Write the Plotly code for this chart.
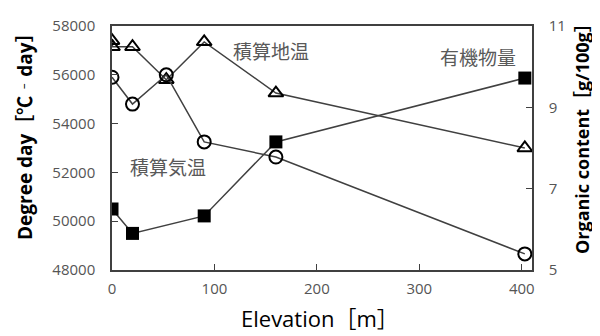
import plotly.graph_objects as go

# Data
tri_x = [0, 0.5, 20, 53, 90, 160, 403]
tri_y = [57400, 57150, 57150, 55800, 57350, 55250, 53000]
circ_x = [0, 20, 53, 90, 160, 403]
circ_y = [55900, 54800, 56000, 53250, 52630, 48660]
sq_x = [0, 20, 90, 160, 403]
sq_y = [6.5, 5.9, 6.33, 8.15, 9.72]

x_ticks = [0, 100, 200, 300, 400]
y_ticks = [48000, 50000, 52000, 54000, 56000, 58000]
y2_ticks = [5, 7, 9, 11]

line_col = "#404040"
fig = go.Figure()
fig.add_trace(go.Scatter(x=tri_x, y=tri_y, mode="lines+markers",
                         line=dict(color=line_col, width=1.5),
                         marker=dict(symbol="triangle-up-open", size=13, color="black",
                                     line=dict(width=2, color="black")),
                         showlegend=False))
fig.add_trace(go.Scatter(x=circ_x, y=circ_y, mode="lines+markers",
                         line=dict(color=line_col, width=1.5),
                         marker=dict(symbol="circle-open", size=13, color="black",
                                     line=dict(width=2, color="black")),
                         showlegend=False))
fig.add_trace(go.Scatter(x=sq_x, y=sq_y, mode="lines+markers", yaxis="y2",
                         line=dict(color=line_col, width=1.5),
                         marker=dict(symbol="square", size=13, color="black"),
                         showlegend=False))

tick_font = dict(family="Open Sans, sans-serif", size=15, color="#555555")
common = dict(ticks="inside", ticklen=6, tickcolor=line_col, showline=True,
              linecolor=line_col, linewidth=1.5, showgrid=False, zeroline=False,
              tickfont=tick_font, automargin=False)
fig.update_layout(
    width=592, height=328,
    margin=dict(l=104, r=68, t=18, b=66),
    paper_bgcolor="white", plot_bgcolor="white",
    xaxis=dict(range=[0, 410], tickvals=x_ticks, ticktext=[str(v) for v in x_ticks],
               mirror=True, ticklabelstandoff=4, **common),
    yaxis=dict(range=[48000, 58000], tickvals=y_ticks, ticktext=[str(v) for v in y_ticks],
               ticklabelstandoff=12, **common),
    yaxis2=dict(range=[5, 11], tickvals=y2_ticks, ticktext=[str(v) for v in y2_ticks],
                overlaying="y", side="right", ticklabelstandoff=12, **common),
)

# positions below are in window pixels; plot area spans x 112..532, y 26..270
cjk = dict(family="Noto Sans CJK JP", size=19, color="#595959")
anns = [
    dict(text="積算地温", x=271, y=50),
    dict(text="有機物量", x=478, y=57),
    dict(text="積算気温", x=168, y=166),
]
for a in anns:
    fig.add_annotation(x=(a["x"] - 112) / 420, y=1 - (a["y"] - 26) / 244,
                       xref="paper", yref="paper", text=a["text"], showarrow=False,
                       font=cjk, xanchor="center", yanchor="middle")

title_font = dict(family="Open Sans, Noto Sans CJK JP, sans-serif", size=19, color="black")
fig.add_annotation(x=(25 - 112) / 420, y=1 - (132 - 26) / 244, xref="paper", yref="paper",
                   text="<b>Degree day［℃‐day］</b>", textangle=-90, showarrow=False,
                   font=title_font, xanchor="center", yanchor="middle")
fig.add_annotation(x=(582 - 112) / 420, y=1 - (134 - 26) / 244, xref="paper", yref="paper",
                   text="<b>Organic content［g/100g］</b>", textangle=-90, showarrow=False,
                   font=dict(family="Open Sans, Noto Sans CJK JP, sans-serif", size=18, color="black"),
                   xanchor="center", yanchor="middle")
fig.add_annotation(x=(320 - 112) / 420, y=1 - (318 - 26) / 244, xref="paper", yref="paper",
                   text="Elevation［m］", showarrow=False,
                   font=dict(family="Open Sans, Noto Sans CJK JP, sans-serif", size=22, color="black"),
                   xanchor="center", yanchor="middle")

fig.write_html("out.html")
